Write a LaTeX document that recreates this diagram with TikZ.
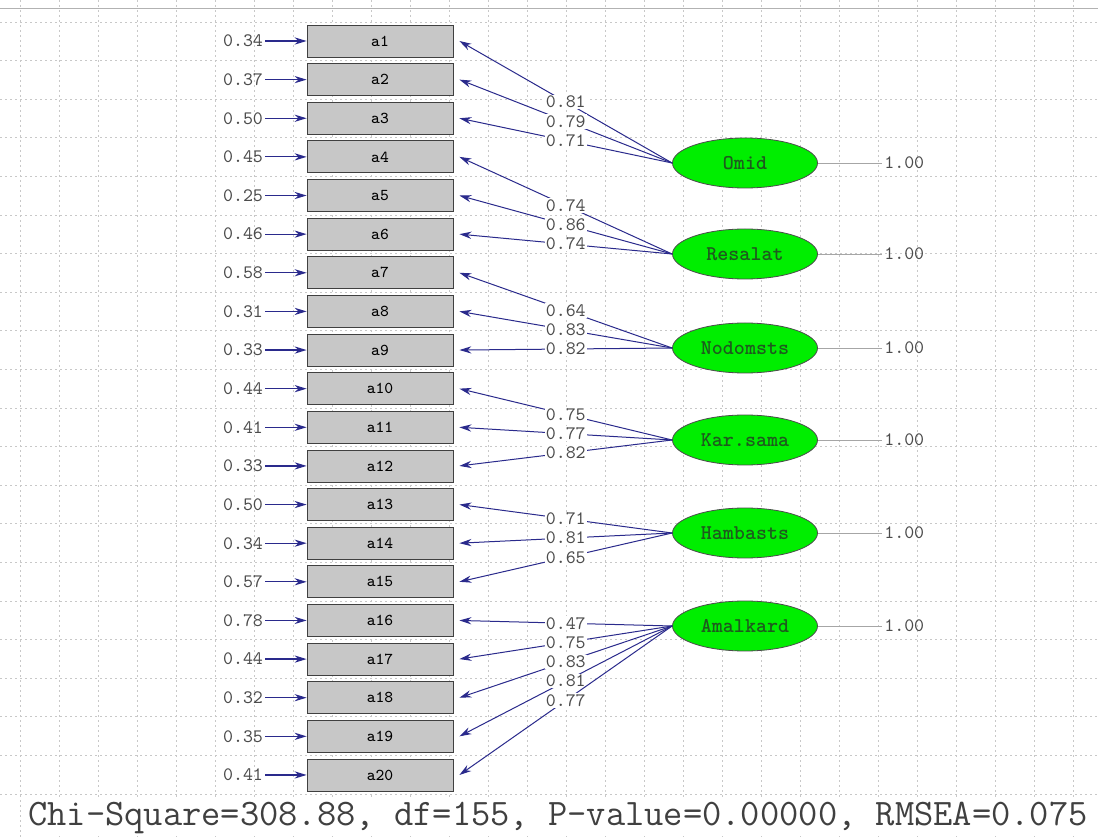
\documentclass[tikz,border=0pt]{standalone}
\usetikzlibrary{arrows.meta,shapes.geometric}
\definecolor{lisblue}{HTML}{2A2A8C}
\definecolor{latgreen}{HTML}{00EE00}
\definecolor{latText}{HTML}{1E5A1E}
\definecolor{gridgray}{HTML}{C8C8C8}
\begin{document}
\begin{tikzpicture}[x=0.5pt,y=-0.5pt,
  obs/.style={draw=black!75,fill=black!22,minimum width=73pt,minimum height=16pt,inner sep=0pt,font=\ttfamily\fontsize{8.3}{9}\selectfont},
  lat/.style={ellipse,draw=black!70,fill=latgreen,minimum width=72.5pt,minimum height=25pt,inner sep=0pt,text=latText,font=\ttfamily\bfseries\fontsize{10.5}{11}\selectfont},
  err/.style={inner sep=1pt,text=black!70,font=\ttfamily\fontsize{9.5}{10}\selectfont},
  val/.style={fill=white,inner sep=0.6pt,text=black!70,font=\ttfamily\fontsize{9.5}{10}\selectfont},
  load/.style={lisblue,line width=0.5pt,-{Stealth[length=6pt,width=3.6pt]}},
  errarr/.style={lisblue,line width=0.6pt,-{Stealth[length=6pt,width=3.6pt]}},
  varline/.style={black!35,line width=0.4pt},
  gridline/.style={gridgray,dash pattern=on 1pt off 1.5pt,line width=0.4pt}]
\useasboundingbox (0,0) rectangle (1098,839);
\fill[white] (0,0) rectangle (1098,839);
% background grid
\foreach \k in {0,...,27}{
  \draw[gridline] ({20+39*\k},0) -- ({20+39*\k},839);
}
\foreach \k in {0,...,20}{
  \draw[gridline] (0,{22+38.6*\k}) -- (1098,{22+38.6*\k});
}
\draw[black!30] (0,8) -- (1098,8);

% observed variables and their error terms
\foreach \i/\e in {1/0.34,2/0.37,3/0.50,4/0.45,5/0.25,6/0.46,7/0.58,8/0.31,9/0.33,10/0.44,
                   11/0.41,12/0.33,13/0.50,14/0.34,15/0.57,16/0.78,17/0.44,18/0.32,19/0.35,20/0.41}{
  \node[obs] (a\i) at (380,{41+38.63*(\i-1)}) {a\i};
  \node[err] (e\i) at (243,{41+38.63*(\i-1)}) {\e};
  \draw[errarr] (e\i.east) -- (a\i.west);
}

% latent variables
\node[lat] (omid) at (745,163) {Omid};
\node[lat] (resalat) at (745,254) {Resalat};
\node[lat] (nodom) at (745,348) {Nodomsts};
\node[lat] (karsama) at (745,440) {Kar.sama};
\node[lat] (hambast) at (745,533) {Hambasts};
\node[lat] (amal) at (745,626) {Amalkard};

\foreach \f in {omid,resalat,nodom,karsama,hambast,amal}{
  \node[err,anchor=west] (v\f) at ([xshift=32]\f.east) {1.00};
  \draw[varline] (\f.east) -- (v\f.west);
}

% loadings
\foreach \f/\i/\l in {omid/1/0.81,omid/2/0.79,omid/3/0.71,
                      resalat/4/0.74,resalat/5/0.86,resalat/6/0.74,
                      nodom/7/0.64,nodom/8/0.83,nodom/9/0.82,
                      karsama/10/0.75,karsama/11/0.77,karsama/12/0.82,
                      hambast/13/0.71,hambast/14/0.81,hambast/15/0.65,
                      amal/16/0.47,amal/17/0.75,amal/18/0.83,amal/19/0.81,amal/20/0.77}{
  \draw[load] (\f.west) -- node[val,pos=0.5]{\l} ([xshift=3]a\i.east);
}

\node[fill=white,inner sep=1pt,text=black!75,font=\ttfamily\fontsize{18.7}{20}\selectfont] (fit) at (558,818)
  {Chi-Square=308.88, df=155, P-value=0.00000, RMSEA=0.075};
\end{tikzpicture}
\end{document}
